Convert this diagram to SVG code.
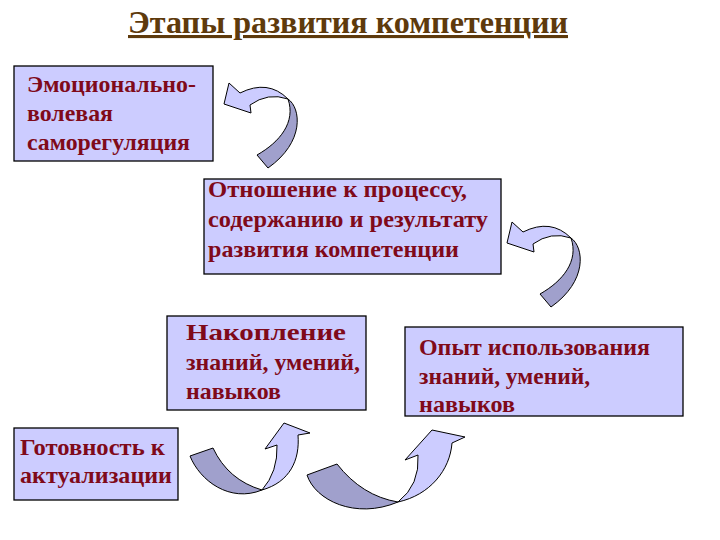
<svg xmlns="http://www.w3.org/2000/svg" xmlns:xlink="http://www.w3.org/1999/xlink" width="720" height="540" viewBox="0 0 720 540">
<style>
.box{fill:#ccccff;stroke:#000000;stroke-width:1.3}
.t{font-family:'Liberation Serif','Times New Roman',serif;font-weight:bold;font-size:23px;fill:#7f0a1a}
.title{font-family:'Liberation Serif','Times New Roman',serif;font-weight:bold;font-size:31px;fill:#5e3a0c;text-decoration:underline}
.lt{fill:#ccccff;stroke:#000;stroke-width:1;stroke-linejoin:round}
.dk{fill:#a0a0cc;stroke:#000;stroke-width:1;stroke-linejoin:round}
</style>
<defs>
<g id="curlLeft">
<path class="dk" d="M288,99 C301,108 305,142 268,168 L257,155 C280,142 296,122 288,99 Z"/>
<path class="lt" d="M224,104 L229,83 L240,93 Q268,79 288,99 Q268,92 250,105 L251,113 Z"/>
</g>
</defs>
<rect width="720" height="540" fill="#ffffff"/>
<text class="title" x="348" y="33" text-anchor="middle" textLength="440" lengthAdjust="spacingAndGlyphs">Этапы развития компетенции</text>
<g id="connectors">
<use xlink:href="#curlLeft" href="#curlLeft"/>
<use xlink:href="#curlLeft" href="#curlLeft" transform="translate(283,139)"/>
<g id="arrow-up-1">
<path class="dk" d="M190,456 C200,481 230,503 262,490 Q228,480 213,448 Z"/>
<path class="lt" d="M262,490 C290,482 300,460 298,435 L310,433 L284,423 L265,449 L277,445 Q278,472 262,490 Z"/>
</g>
<g id="arrow-up-2">
<path class="dk" d="M307,475 C315,500 355,520 398,502 Q362,496 337,464 Z"/>
<path class="lt" d="M398,502 C430,495 450,470 452,443 L465,437 L432,430 L405,460 L418,455 Q420,485 398,502 Z"/>
</g>
</g>
<g id="node-emotional">
<rect class="box" x="14" y="66" width="199" height="95"/>
<text class="t" x="27" y="92" textLength="169" lengthAdjust="spacingAndGlyphs">Эмоционально-</text>
<text class="t" x="27" y="121" textLength="86" lengthAdjust="spacingAndGlyphs">волевая</text>
<text class="t" x="27" y="150" textLength="163" lengthAdjust="spacingAndGlyphs">саморегуляция</text>
</g>
<g id="node-attitude">
<rect class="box" x="204" y="179" width="297" height="95"/>
<text class="t" x="208" y="197" textLength="259" lengthAdjust="spacingAndGlyphs">Отношение к процессу,</text>
<text class="t" x="208" y="227" textLength="280" lengthAdjust="spacingAndGlyphs">содержанию и результату</text>
<text class="t" x="208" y="257" textLength="251" lengthAdjust="spacingAndGlyphs">развития компетенции</text>
</g>
<g id="node-accumulation">
<rect class="box" x="167" y="316" width="199" height="94"/>
<text class="t" x="186" y="340" textLength="160" lengthAdjust="spacingAndGlyphs">Накопление</text>
<text class="t" x="186" y="370" textLength="174" lengthAdjust="spacingAndGlyphs">знаний, умений,</text>
<text class="t" x="186" y="399" textLength="95" lengthAdjust="spacingAndGlyphs">навыков</text>
</g>
<g id="node-experience">
<rect class="box" x="405" y="327" width="278" height="89"/>
<text class="t" x="419" y="355" textLength="231" lengthAdjust="spacingAndGlyphs">Опыт использования</text>
<text class="t" x="419" y="384" textLength="171" lengthAdjust="spacingAndGlyphs">знаний, умений,</text>
<text class="t" x="419" y="412" textLength="96" lengthAdjust="spacingAndGlyphs">навыков</text>
</g>
<g id="node-readiness">
<rect class="box" x="14" y="428" width="164" height="72"/>
<text class="t" x="20" y="455" textLength="145" lengthAdjust="spacingAndGlyphs">Готовность к</text>
<text class="t" x="20" y="483" textLength="152" lengthAdjust="spacingAndGlyphs">актуализации</text>
</g>
</svg>
